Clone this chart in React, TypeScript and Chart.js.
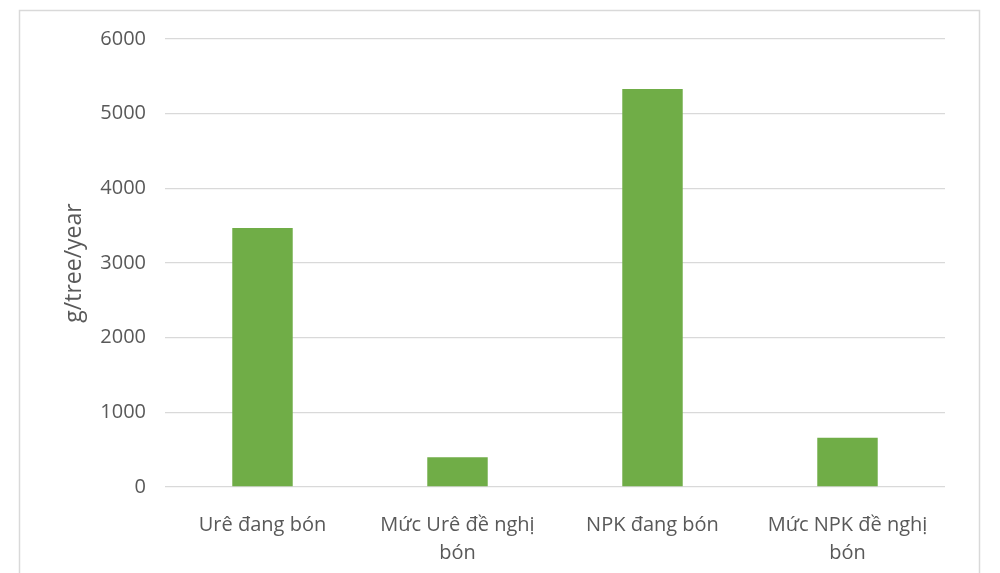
import React, { useEffect, useRef } from "react";
import { Chart, registerables } from "chart.js";

Chart.register(...registerables);

const categories: (string | string[])[] = [
  "Urê đang bón",
  ["Mức Urê đề nghị", "bón"],
  "NPK đang bón",
  ["Mức NPK đề nghị", "bón"],
];
const values = [3470, 400, 5330, 660];
const yTicks = [0, 1000, 2000, 3000, 4000, 5000, 6000];
const yTitle = "g/tree/year";

const borderPlugin = {
  id: "outerBorder",
  beforeDraw(chart: any) {
    const ctx = chart.ctx;
    ctx.save();
    ctx.strokeStyle = "#d9d9d9";
    ctx.lineWidth = 1.5;
    ctx.beginPath();
    ctx.moveTo(19.5, 573);
    ctx.lineTo(19.5, 10.5);
    ctx.lineTo(979.5, 10.5);
    ctx.lineTo(979.5, 573);
    ctx.stroke();
    ctx.restore();
  },
};

export default function App() {
  const ref = useRef<HTMLCanvasElement>(null);
  useEffect(() => {
    document.body.style.margin = "0";
    const c = new Chart(ref.current!, {
      type: "bar",
      data: {
        labels: categories,
        datasets: [
          {
            data: values,
            backgroundColor: "#70AD47",
            barPercentage: 0.31,
            categoryPercentage: 1,
          },
        ],
      },
      plugins: [borderPlugin],
      options: {
        responsive: false,
        animation: false,
        layout: { padding: { left: 20, right: 55, top: 39, bottom: 10 } },
        plugins: { legend: { display: false }, tooltip: { enabled: false } },
        scales: {
          x: {
            grid: { display: false },
            border: { display: false },
            ticks: {
              color: "#595959",
              font: { family: "Open Sans", size: 20, lineHeight: 1.4 },
              padding: 16,
              maxRotation: 0,
              autoSkip: false,
            },
            afterFit(s: any) {
              s.height = 76;
            },
          },
          y: {
            min: 0,
            max: 6000,
            afterBuildTicks(s: any) {
              s.ticks = yTicks.map((v) => ({ value: v }));
            },
            grid: { color: "#d9d9d9", lineWidth: 1.3, drawTicks: false },
            border: { display: false },
            ticks: {
              color: "#595959",
              font: { family: "Open Sans", size: 20 },
              padding: 19,
              callback: (v: any) => String(v),
            },
            title: {
              display: true,
              text: yTitle,
              color: "#595959",
              font: { family: "Open Sans", size: 23 },
              padding: { top: 41, bottom: 0 },
            },
            afterFit(s: any) {
              s.width = 145;
            },
          },
        },
      },
    });
    return () => c.destroy();
  }, []);
  return (
    <div style={{ width: 1000, height: 573, background: "#fff" }}>
      <canvas ref={ref} width={1000} height={573} />
    </div>
  );
}
